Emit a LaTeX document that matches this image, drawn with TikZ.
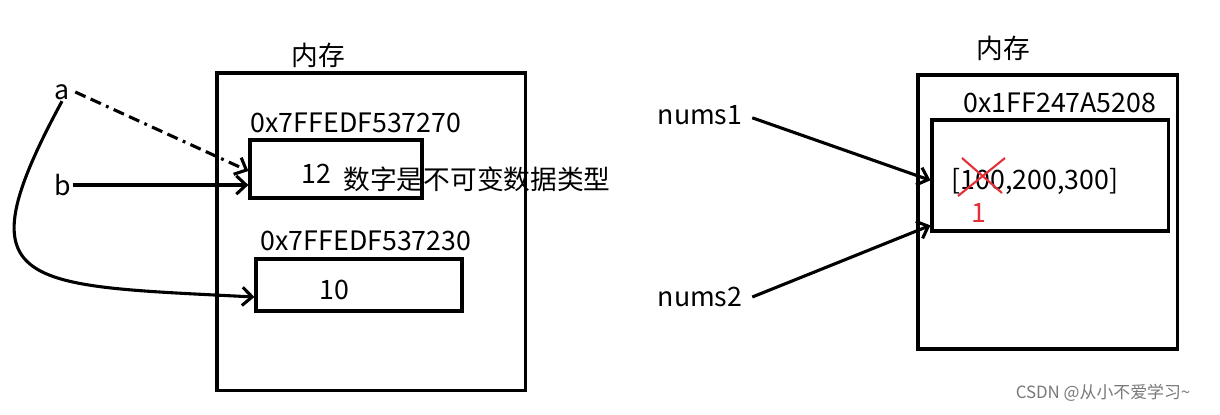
\documentclass[tikz,border=0pt]{standalone}
\usepackage{fontspec}
\setmainfont{Noto Sans CJK SC}
\usetikzlibrary{arrows.meta,calc}
\definecolor{cmark}{RGB}{228,48,58}
\definecolor{cmark2}{RGB}{120,120,120}
\tikzset{every path/.style={draw,>={Straight Barb[length=7pt,width=13pt]},line width=2.2pt,color=black}}
\tikzset{membox/.style={draw,line width=2.2pt,inner sep=0pt,fill=none}}

\begin{document}
\begin{tikzpicture}[x=0.025cm,y=-0.025cm]
\useasboundingbox[draw=none] (0,0) rectangle (1220,414);
\begin{scope}[every node/.style={inner sep=0pt,font=\fontsize{19}{19}\selectfont}]
% left memory
\node[membox,minimum width=7.7cm,minimum height=7.925cm] (mem1) at (371,231.5) {};
\node[membox,minimum width=4.3cm,minimum height=1.45cm] (box1) at (336,169) {};
\node[membox,minimum width=5.15cm,minimum height=1.3cm] (box2) at (359,285) {};
\node (t1) at (318,55) {内存};
\node (ad1) at (356,123) {0x7FFEDF537270};
\node (ad2) at (366,241) {0x7FFEDF537230};
\node (v12) at (316,174) {12};
\node (v10) at (334,290) {10};
\node (note) at (477,179) {数字是不可变数据类型};
\node (a) at (62,92) {a};
\node (b) at (63,185) {b};
% right memory
\node[membox,minimum width=6.475cm,minimum height=6.85cm] (mem2) at (1047.5,212) {};
\node[membox,minimum width=5.9cm,minimum height=2.775cm] (lst) at (1050,175.5) {};
\node (t2) at (1003,48) {内存};
\node (ad3) at (1060,103) {0x1FF247A5208};
\node (vl) at (1035,181) {[100,200,300]};
\node[color=cmark] (one) at (979,213) {1};
\node (n1) at (700,115) {nums1};
\node (n2) at (700,297) {nums2};
\node[color=cmark2,font=\fontsize{12}{12}\selectfont] (wm) at (1103,393) {CSDN @从小不爱学习\char`\~};
\end{scope}

\path[->,line width=2.2pt,dash pattern=on 8pt off 4pt on 8pt off 4pt on 2pt off 4pt] ([xshift=3pt]a.east) -- ([yshift=-0.05cm]box1.west);
\path[->,line width=2.2pt] (b.east) -- (b.east -| box1.west);
\path[->,line width=2.2pt] (a.south) .. controls (-40,290) and (20,285) .. ([yshift=-0.3cm]box2.west);
\path[->,line width=2.2pt] ([xshift=6pt,yshift=-2pt]n1.east) -- ([yshift=-0.12cm]lst.west);
\path[->,line width=2.2pt] ([xshift=6pt]n2.east) -- ([yshift=0.18cm]lst.south west);

% red cross
\path[color=cmark,line width=1.5pt] (962,158) -- (1002,193);
\path[color=cmark,line width=1.5pt] (1005,158) -- (958,196);

\end{tikzpicture}
\end{document}
